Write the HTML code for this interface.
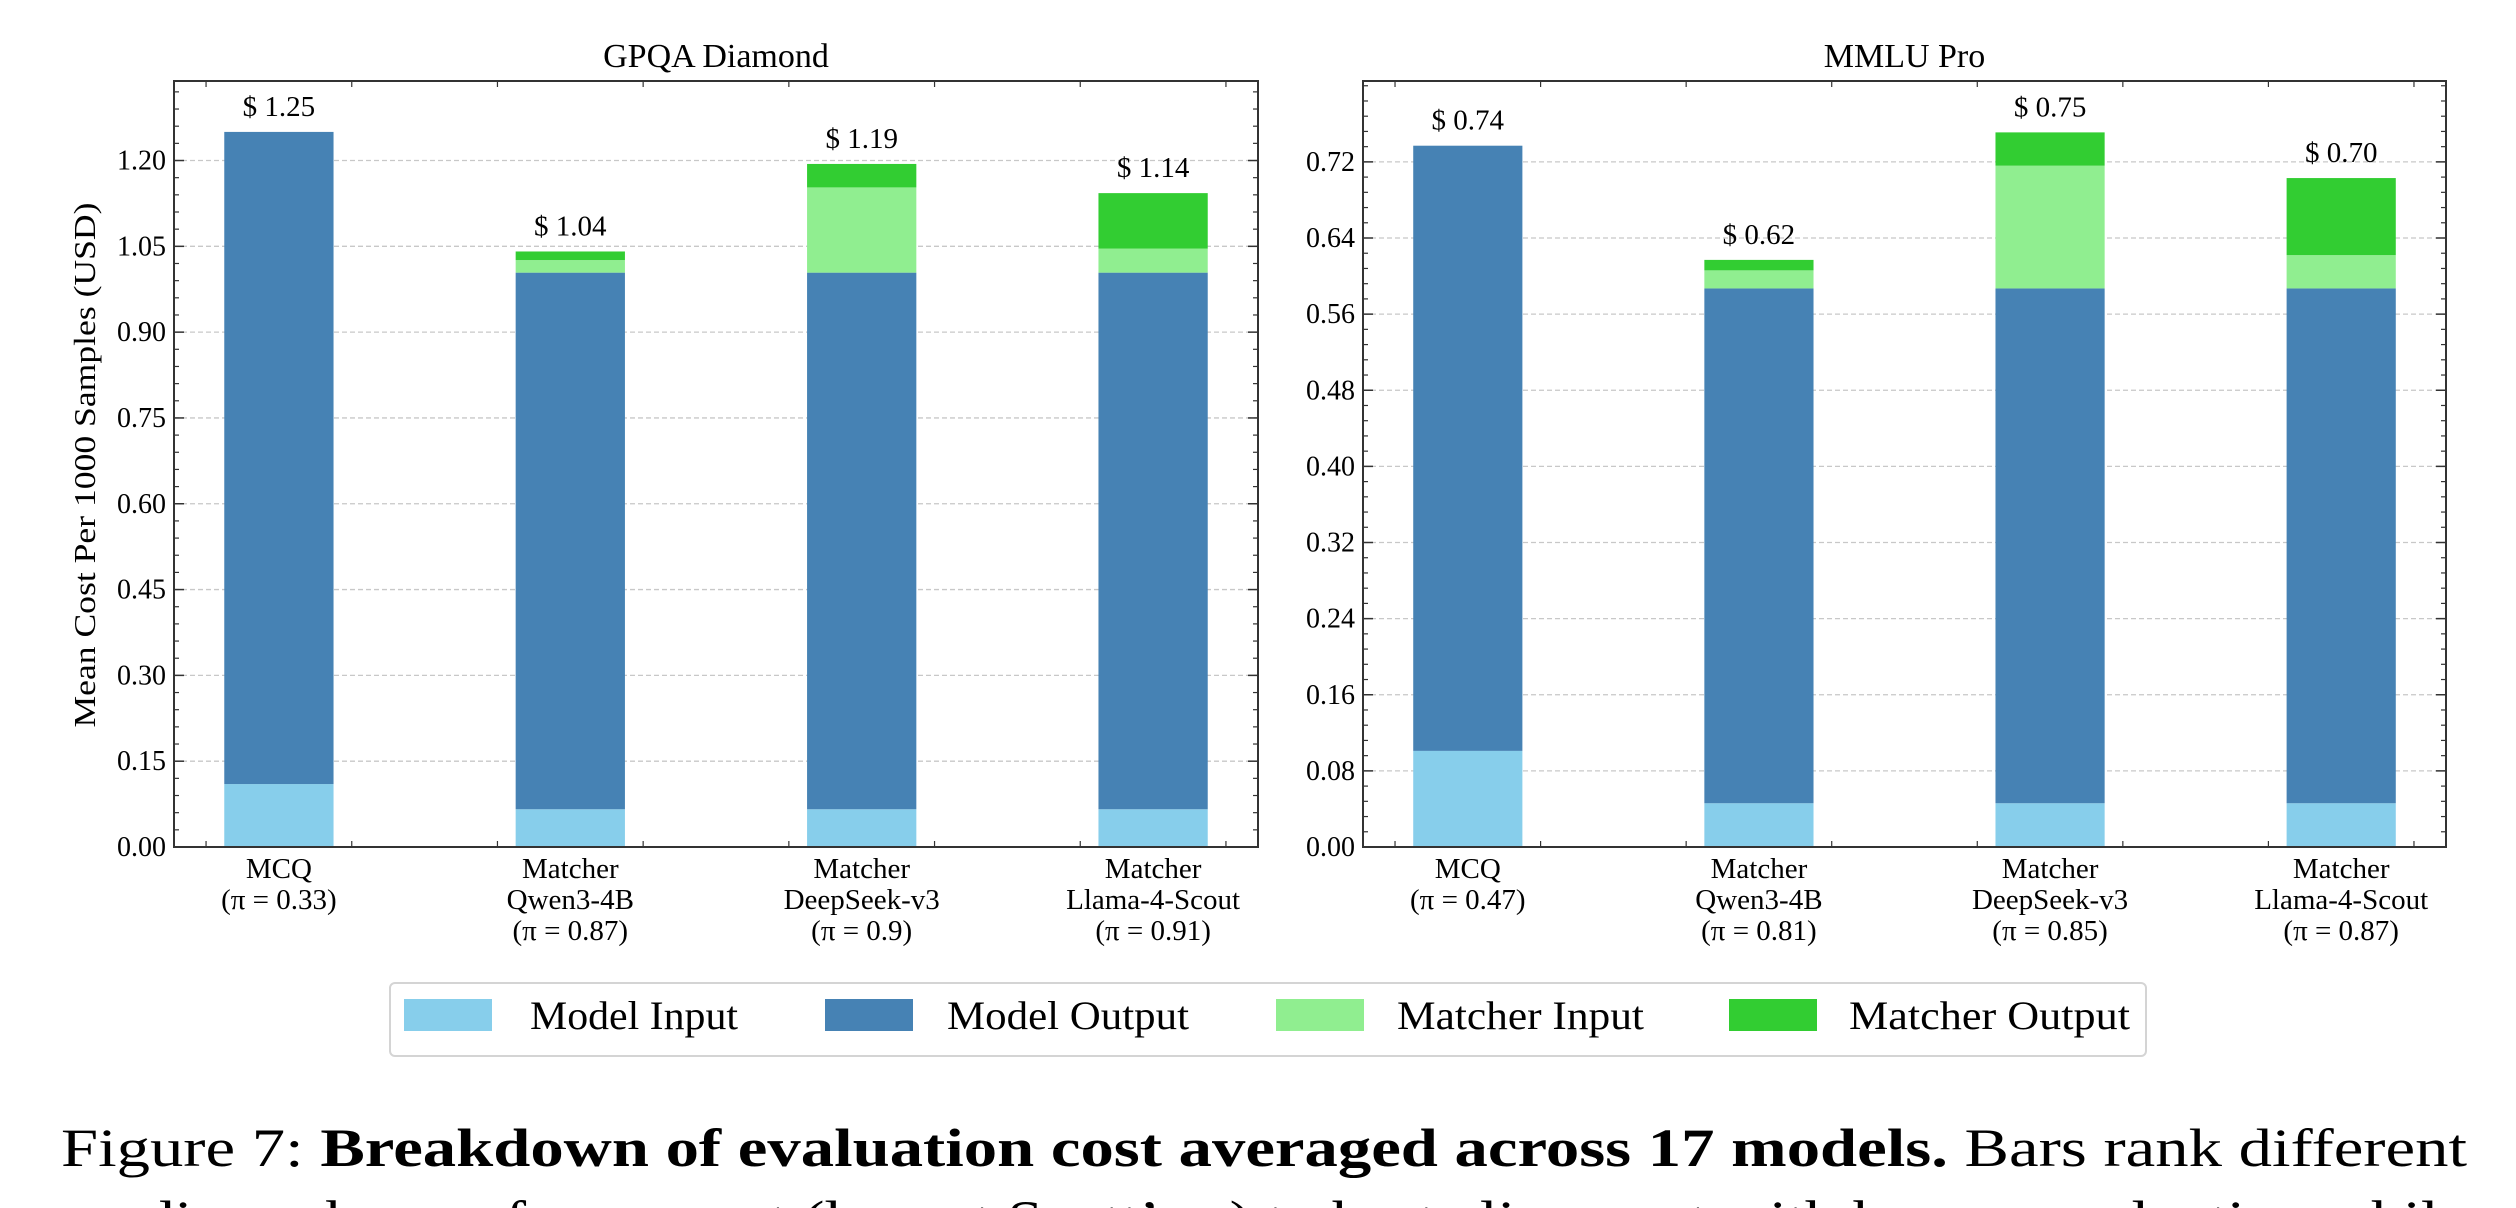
<!DOCTYPE html>
<html><head><meta charset="utf-8"><style>
html,body{margin:0;padding:0;background:#fff;}
svg{display:block;font-family:"Liberation Serif",serif;}
</style></head><body>
<svg id="fig" width="2516" height="1208" viewBox="0 0 2516 1208" xmlns="http://www.w3.org/2000/svg">
<text x="95" y="465" transform="rotate(-90 95 465)" text-anchor="middle" font-size="31" textLength="525" lengthAdjust="spacingAndGlyphs">Mean Cost Per 1000 Samples (USD)</text>
<g id="legend">
<rect x="390" y="983" width="1756" height="73" rx="5" fill="#fff" stroke="#d4d4d4" stroke-width="2"/>
<rect x="404" y="999" width="88" height="32" fill="#87CEEB"/>
<text x="530" y="1029" font-size="40" textLength="208" lengthAdjust="spacingAndGlyphs">Model Input</text>
<rect x="825" y="999" width="88" height="32" fill="#4682B4"/>
<text x="947" y="1029" font-size="40" textLength="242" lengthAdjust="spacingAndGlyphs">Model Output</text>
<rect x="1276" y="999" width="88" height="32" fill="#90EE90"/>
<text x="1397" y="1029" font-size="40" textLength="247" lengthAdjust="spacingAndGlyphs">Matcher Input</text>
<rect x="1729" y="999" width="88" height="32" fill="#32CD32"/>
<text x="1849" y="1029" font-size="40" textLength="281" lengthAdjust="spacingAndGlyphs">Matcher Output</text>
</g>
<text x="61" y="1166" font-size="54" textLength="2406" lengthAdjust="spacingAndGlyphs">Figure 7:  <tspan font-weight="bold">Breakdown of evaluation cost averaged across 17 models.</tspan>  Bars rank different</text>
<text x="61" y="1238" font-size="54" textLength="2406" lengthAdjust="spacingAndGlyphs">grading schemes from worst (lowest Scott’s π) to best alignment with human evaluation while</text>
</svg>
<script>
const categories = ["MCQ","Matcher|Qwen3-4B","Matcher|DeepSeek-v3","Matcher|Llama-4-Scout"];
const gpqaPi = ["0.33","0.87","0.9","0.91"];
const gpqaModelInput = [0.110,0.066,0.066,0.066];
const gpqaModelOutput = [1.140,0.938,0.938,0.938];
const gpqaMatcherInput = [0,0.022,0.149,0.042];
const gpqaMatcherOutput = [0,0.015,0.041,0.097];
const gpqaTotals = ["1.25","1.04","1.19","1.14"];
const gpqaTicks = [0,0.15,0.30,0.45,0.60,0.75,0.90,1.05,1.20];
const mmluPi = ["0.47","0.81","0.85","0.87"];
const mmluModelInput = [0.101,0.046,0.046,0.046];
const mmluModelOutput = [0.636,0.541,0.541,0.541];
const mmluMatcherInput = [0,0.019,0.129,0.035];
const mmluMatcherOutput = [0,0.011,0.035,0.081];
const mmluTotals = ["0.74","0.62","0.75","0.70"];
const mmluTicks = [0,0.08,0.16,0.24,0.32,0.40,0.48,0.56,0.64,0.72];
const seriesColors = ["#87CEEB","#4682B4","#90EE90","#32CD32"];
const seriesNames = ["model-input","model-output","matcher-input","matcher-output"];

const NS="http://www.w3.org/2000/svg";
const svg=document.getElementById('fig');
function mk(tag,attrs,parent){const e=document.createElementNS(NS,tag);for(const k in attrs)e.setAttribute(k,attrs[k]);(parent||svg).appendChild(e);return e;}

function panel(opt){
  const g=mk('g',{});
  
  
  const L=opt.left,R=opt.right,T=81,B=847;
  const xmin=-0.36,xmax=3.36;
  const xs=v=>L+(v-xmin)/(xmax-xmin)*(R-L);
  const ys=v=>B-(v/opt.ymax)*(B-T);
  opt.ticks.forEach((t,i)=>{
    const y=ys(t);
    if(i>0){const gl=mk('line',{x1:L,x2:R,y1:y,y2:y,stroke:'#c8c8c8','stroke-width':1.3,'stroke-dasharray':'5,3'},g);
    
    }
    mk('line',{x1:L,x2:L+10,y1:y,y2:y,stroke:'#333','stroke-width':1.5},g);
    mk('line',{x1:R,x2:R-10,y1:y,y2:y,stroke:'#333','stroke-width':1.5},g);
    const tl=mk('text',{x:L-8,y:y+9,'text-anchor':'end','font-size':28},g);
    tl.textContent=t.toFixed(2);
    
    
    if(i<opt.ticks.length-1){const step=opt.ticks[1]-opt.ticks[0];
      for(let m=1;m<5;m++){const ym=ys(t+step*m/5);if(ym<T)break;
        mk('line',{x1:L,x2:L+5,y1:ym,y2:ym,stroke:'#333','stroke-width':1.2},g);
        mk('line',{x1:R,x2:R-5,y1:ym,y2:ym,stroke:'#333','stroke-width':1.2},g);}}
  });
  const step=opt.ticks[1]-opt.ticks[0];const last=opt.ticks[opt.ticks.length-1];
  for(let m=1;m<10;m++){const ym=ys(last+step*m/5);if(ym<T)break;
    mk('line',{x1:L,x2:L+5,y1:ym,y2:ym,stroke:'#333','stroke-width':1.2},g);
    mk('line',{x1:R,x2:R-5,y1:ym,y2:ym,stroke:'#333','stroke-width':1.2},g);}
  for(let v=-0.25;v<3.4;v+=0.5){const x=xs(v);
    mk('line',{x1:x,x2:x,y1:B,y2:B-6,stroke:'#333','stroke-width':1.2},g);
    mk('line',{x1:x,x2:x,y1:T,y2:T+6,stroke:'#333','stroke-width':1.2},g);}
  const series=[opt.mi,opt.mo,opt.ci,opt.co];
  const bw=0.375;
  categories.forEach((c,i)=>{
    let base=0;
    series.forEach((s,k)=>{
      const v=s[i];if(v<=0)return;
      const r=mk('rect',{x:xs(i-bw/2),width:xs(i+bw/2)-xs(i-bw/2),y:ys(base+v),height:ys(base)-ys(base+v),fill:seriesColors[k]},g);
      
      
      base+=v;
    });
    const vl=mk('text',{x:xs(i),y:ys(base)-16,'text-anchor':'middle','font-size':29},g);
    vl.textContent='$ '+opt.totals[i];
    
    
    const lines=c.split('|').concat(['(π = '+opt.pi[i]+')']);
    lines.forEach((ln,j)=>{
      const t=mk('text',{x:xs(i),y:878+j*31,'text-anchor':'middle','font-size':29},g);
      t.textContent=ln;
      
      
    });
  });
  const fr=mk('rect',{x:L,y:T,width:R-L,height:B-T,fill:'none',stroke:'#333','stroke-width':2},g);
  
  
  const tt=mk('text',{x:(L+R)/2,y:67,'text-anchor':'middle','font-size':34},g);
  tt.textContent=opt.title;
  
  
}
panel({name:'gpqa-panel',title:'GPQA Diamond',left:174,right:1258,ymax:1.339,ticks:gpqaTicks,mi:gpqaModelInput,mo:gpqaModelOutput,ci:gpqaMatcherInput,co:gpqaMatcherOutput,totals:gpqaTotals,pi:gpqaPi});
panel({name:'mmlu-panel',title:'MMLU Pro',left:1363,right:2446,ymax:0.805,ticks:mmluTicks,mi:mmluModelInput,mo:mmluModelOutput,ci:mmluMatcherInput,co:mmluMatcherOutput,totals:mmluTotals,pi:mmluPi});
</script>
</body></html>
